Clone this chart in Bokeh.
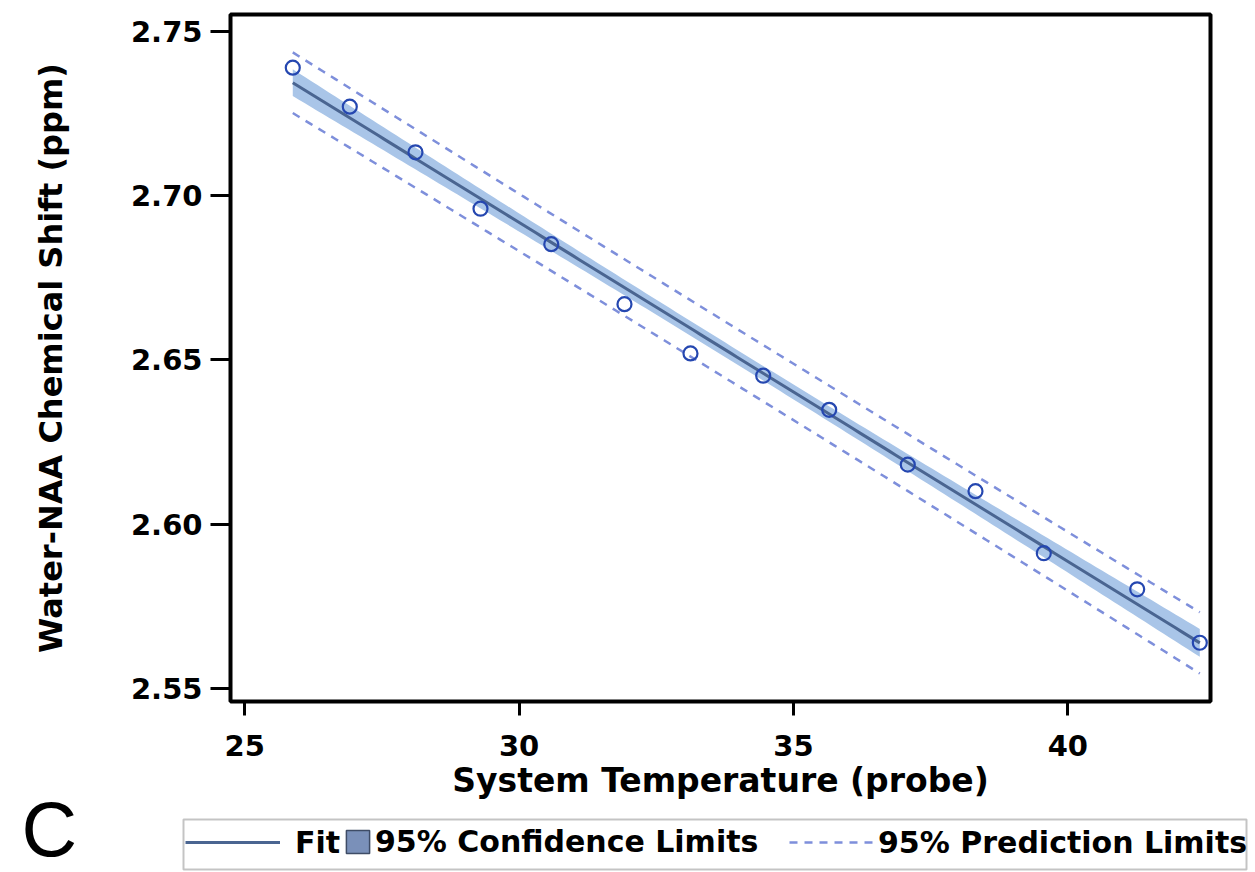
import numpy as np
from bokeh.plotting import figure
from bokeh.layouts import column, row
from bokeh.models import (Range1d, FixedTicker, Legend, LegendItem, Label,
                          BoxAnnotation)
from bokeh.embed import file_html
from bokeh.resources import INLINE

# ---------------- data ----------------
temperature = [25.875, 26.914, 28.111, 29.296, 30.586, 31.920, 33.123,
               34.448, 35.651, 37.083, 38.317, 39.562, 41.264, 42.405]
chemical_shift = [2.7391, 2.7272, 2.7133, 2.6961, 2.6853, 2.6670, 2.6520,
                  2.6452, 2.6348, 2.6181, 2.6100, 2.5911, 2.5801, 2.5638]

x_ticks = [25, 30, 35, 40]
x_tick_labels = ["25", "30", "35", "40"]
y_ticks = [2.55, 2.60, 2.65, 2.70, 2.75]
y_tick_labels = ["2.55", "2.60", "2.65", "2.70", "2.75"]
legend_labels = ["Fit", "95% Confidence Limits", "95% Prediction Limits"]
x_title = "System Temperature (probe)"
y_title = "Water-NAA Chemical Shift (ppm)"
panel_letter = "C"
T_CRIT = 2.1788  # t(0.975, df = n - 2 = 12)

# ---------------- linear regression with 95% limits ----------------
xa = np.array(temperature)
ya = np.array(chemical_shift)
n = len(xa)
slope, intercept = np.polyfit(xa, ya, 1)
resid = ya - (slope * xa + intercept)
s = np.sqrt((resid ** 2).sum() / (n - 2))
xbar = xa.mean()
sxx = ((xa - xbar) ** 2).sum()
xf = np.linspace(xa.min(), xa.max(), 150)
yf = slope * xf + intercept
lev = (xf - xbar) ** 2 / sxx
ci = T_CRIT * s * np.sqrt(1.0 / n + lev)
pi = T_CRIT * s * np.sqrt(1.0 + 1.0 / n + lev)

# ---------------- styles ----------------
FONT = "DejaVu Sans"
FIT_STYLE = dict(line_color="#4a6591", line_width=3)
PI_STYLE = dict(line_color="#7e8fdb", line_width=2.5, line_dash="8 7")
BAND_COLOR = "#a9c5e8"
POINT_COLOR = "#2547b0"

# ---------------- main figure ----------------
MAIN_H = 802
p = figure(width=1255, height=MAIN_H,
           x_range=Range1d(24.74, 42.60), y_range=Range1d(2.5459, 2.7553),
           output_backend="svg", toolbar_location=None,
           min_border_left=230, min_border_right=45,
           min_border_top=14, min_border_bottom=MAIN_H - 702)
p.xgrid.visible = False
p.ygrid.visible = False
p.outline_line_color = "black"
p.outline_line_width = 4
p.background_fill_color = "white"
p.border_fill_color = "white"

p.varea(x=xf, y1=yf - ci, y2=yf + ci, fill_color=BAND_COLOR, fill_alpha=1.0)
p.line(xf, yf + pi, **PI_STYLE)
p.line(xf, yf - pi, **PI_STYLE)
p.line(xf, yf, **FIT_STYLE)
p.scatter(temperature, chemical_shift, marker="circle", size=14,
          fill_color=None, line_color=POINT_COLOR, line_width=2.2)

p.xaxis.ticker = FixedTicker(ticks=x_ticks)
p.xaxis.major_label_overrides = dict(zip(x_ticks, x_tick_labels))
p.yaxis.ticker = FixedTicker(ticks=y_ticks)
p.yaxis.major_label_overrides = dict(zip(y_ticks, y_tick_labels))
p.xaxis.axis_label = x_title
p.yaxis.axis_label = y_title
for ax in (p.xaxis[0], p.yaxis[0]):
    ax.axis_line_color = None
    ax.major_tick_line_color = "black"
    ax.major_tick_line_width = 3
    ax.major_tick_in = 0
    ax.minor_tick_line_color = None
    ax.major_label_text_font = FONT
    ax.major_label_text_font_style = "bold"
    ax.major_label_text_font_size = "29px"
    ax.major_label_text_color = "black"
    ax.axis_label_text_font = FONT
    ax.axis_label_text_font_style = "bold"
    ax.axis_label_text_color = "black"
p.xaxis.axis_label_text_font_size = "33px"
p.yaxis.axis_label_text_font_size = "32px"
p.xaxis.major_tick_out = 14
p.xaxis.major_label_standoff = 19
p.xaxis.axis_label_standoff = 2
p.yaxis.major_tick_out = 20
p.yaxis.major_label_standoff = 8
p.yaxis.axis_label_standoff = 58

# ---------------- legend strip below (overlaps the figure's empty bottom) ----
OVERLAP = 20
S_W, S_H = 1255, 872 - MAIN_H + OVERLAP
strip = figure(width=S_W, height=S_H, x_range=Range1d(0, S_W),
               y_range=Range1d(0, S_H), output_backend="svg",
               toolbar_location=None, x_axis_type=None, y_axis_type=None,
               min_border_left=0, min_border_right=0, min_border_top=0,
               min_border_bottom=0, margin=(-OVERLAP, 0, 0, 0))
strip.xgrid.visible = False
strip.ygrid.visible = False
strip.outline_line_color = None
strip.background_fill_alpha = 0
strip.border_fill_alpha = 0

# legend keys (one NaN row each, so nothing is drawn in the strip itself)
nan = [float("nan")]
fit_key = strip.line(x=nan, y=nan, **FIT_STYLE)
ci_key = strip.quad(left=nan, right=nan, top=nan, bottom=nan,
                    fill_color="#7a90b9", line_color="#3e4c66", line_width=1.5)
pi_key = strip.line(x=nan, y=nan, **PI_STYLE)

common = dict(padding=0, margin=0, spacing=0, border_line_color=None,
              background_fill_alpha=0, label_text_font=FONT,
              label_text_font_style="bold", label_text_font_size="30px",
              label_text_color="black", orientation="horizontal")
leg_fit = Legend(items=[LegendItem(label=legend_labels[0], renderers=[fit_key])],
                 location=(185, 10), glyph_width=95, glyph_height=40,
                 label_height=40, label_standoff=15, **common)
leg_ci = Legend(items=[LegendItem(label=legend_labels[1], renderers=[ci_key])],
                location=(343, 13), glyph_width=29, glyph_height=29,
                label_height=29, label_standoff=3, **common)
leg_pi = Legend(items=[LegendItem(label=legend_labels[2], renderers=[pi_key])],
                location=(789, 10), glyph_width=86, glyph_height=40,
                label_height=40, label_standoff=3, **common)
for lg in (leg_fit, leg_ci, leg_pi):
    strip.add_layout(lg)

strip.add_layout(BoxAnnotation(left=183, right=1246, bottom=3, top=53,
                               fill_color=None, fill_alpha=0,
                               line_color="#3a3a3a", line_width=2))

strip.add_layout(Label(x=21, y=1, text=panel_letter,
                       text_font="Liberation Sans", text_font_size="77px",
                       text_color="black", text_baseline="bottom",
                       text_align="left"))

layout = column(p, row(strip), spacing=0)
open("out.html", "w").write(file_html(layout, INLINE))
